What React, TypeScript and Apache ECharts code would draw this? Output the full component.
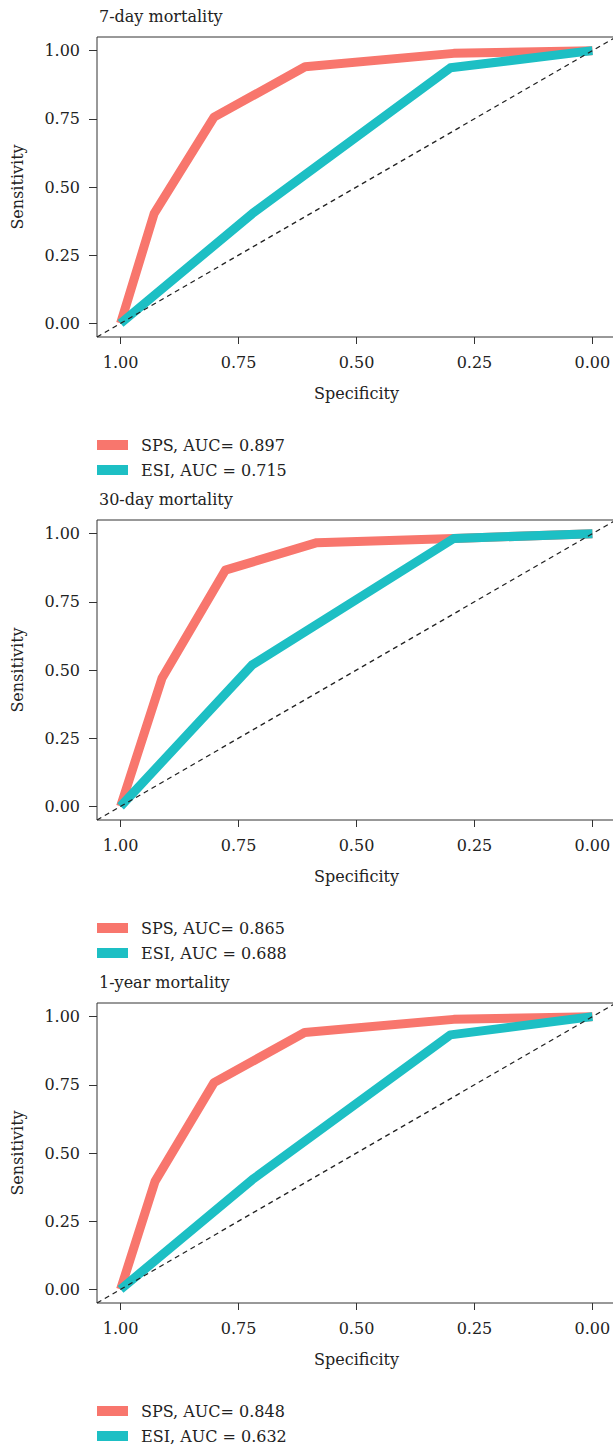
import React, { useEffect, useRef } from "react";
import * as echarts from "echarts";

const panelTitles = ["7-day mortality", "30-day mortality", "1-year mortality"];
const tickValues = [0, 0.25, 0.5, 0.75, 1];

const spsNames = ["SPS, AUC= 0.897", "SPS, AUC= 0.865", "SPS, AUC= 0.848"];
const esiNames = ["ESI, AUC = 0.715", "ESI, AUC = 0.688", "ESI, AUC = 0.632"];

// panel 1: 7-day
const sps7Spec = [1, 0.929, 0.802, 0.609, 0.294, 0];
const sps7Sens = [0, 0.402, 0.756, 0.941, 0.99, 1];
const esi7Spec = [1, 0.721, 0.301, 0];
const esi7Sens = [0, 0.402, 0.937, 1];
// panel 2: 30-day
const sps30Spec = [1, 0.912, 0.778, 0.584, 0.294, 0];
const sps30Sens = [0, 0.471, 0.866, 0.967, 0.982, 1];
const esi30Spec = [1, 0.721, 0.294, 0];
const esi30Sens = [0, 0.519, 0.982, 1];
// panel 3: 1-year
const sps1ySpec = [1, 0.927, 0.802, 0.61, 0.294, 0];
const sps1ySens = [0, 0.396, 0.758, 0.942, 0.99, 1];
const esi1ySpec = [1, 0.721, 0.301, 0];
const esi1ySens = [0, 0.402, 0.933, 1];

const diagSpec = [1.05, -0.05];
const diagSens = [-0.05, 1.05];

const spsSpecs = [sps7Spec, sps30Spec, sps1ySpec];
const spsSenss = [sps7Sens, sps30Sens, sps1ySens];
const esiSpecs = [esi7Spec, esi30Spec, esi1ySpec];
const esiSenss = [esi7Sens, esi30Sens, esi1ySens];

const FONT = "DejaVu Serif";
const RED = "#F8766D";
const TEAL = "#1DBFC4";
const INK = "#222222";

const pair = (xs: number[], ys: number[]) => xs.map((x, i) => [x, ys[i]]);

export default function App() {
  const ref = useRef<HTMLDivElement>(null);
  useEffect(() => {
    if (!ref.current) return;
    const chart = echarts.init(ref.current, undefined, { renderer: "svg" });
    const step = 483;
    const grids: any[] = [];
    const xAxes: any[] = [];
    const yAxes: any[] = [];
    const series: any[] = [];
    const titles: any[] = [];
    const legends: any[] = [];
    for (let i = 0; i < 3; i++) {
      const top = 37 + step * i;
      grids.push({
        left: 97,
        top,
        width: 519,
        height: 300,
        show: true,
        borderColor: "#333",
        borderWidth: 1,
        backgroundColor: "transparent",
        containLabel: false,
        outerBoundsMode: "none",
      });
      xAxes.push({
        type: "value",
        gridIndex: i,
        min: -0.05,
        max: 1.05,
        inverse: true,
        name: "Specificity",
        nameLocation: "middle",
        nameGap: 48,
        nameTextStyle: { fontFamily: FONT, fontSize: 16, color: INK },
        axisLine: { show: false, onZero: false },
        splitLine: { show: false },
        axisTick: {
          show: true,
          length: 7,
          customValues: tickValues,
          lineStyle: { color: "#333", width: 1 },
        },
        axisLabel: {
          customValues: tickValues,
          formatter: (v: number) => v.toFixed(2),
          fontFamily: FONT,
          fontSize: 16,
          color: INK,
          margin: 17,
        },
      });
      yAxes.push({
        type: "value",
        gridIndex: i,
        min: -0.05,
        max: 1.05,
        name: "Sensitivity",
        nameLocation: "middle",
        nameGap: 72,
        nameTextStyle: { fontFamily: FONT, fontSize: 16, color: INK },
        axisLine: { show: false, onZero: false },
        splitLine: { show: false },
        axisTick: {
          show: true,
          length: 8,
          customValues: tickValues,
          lineStyle: { color: "#333", width: 1 },
        },
        axisLabel: {
          customValues: tickValues,
          formatter: (v: number) => v.toFixed(2),
          fontFamily: FONT,
          fontSize: 16,
          color: INK,
          margin: 17,
        },
      });
      series.push({
        type: "line",
        name: spsNames[i],
        xAxisIndex: i,
        yAxisIndex: i,
        data: pair(spsSpecs[i], spsSenss[i]),
        showSymbol: false,
        symbol: "none",
        color: RED,
        lineStyle: { color: RED, width: 9, cap: "butt", join: "round" },
        z: 2,
      });
      series.push({
        type: "line",
        name: esiNames[i],
        xAxisIndex: i,
        yAxisIndex: i,
        data: pair(esiSpecs[i], esiSenss[i]),
        showSymbol: false,
        symbol: "none",
        color: TEAL,
        lineStyle: { color: TEAL, width: 9, cap: "butt", join: "round" },
        z: 3,
      });
      series.push({
        type: "line",
        name: "diag" + i,
        xAxisIndex: i,
        yAxisIndex: i,
        data: pair(diagSpec, diagSens),
        showSymbol: false,
        symbol: "none",
        lineStyle: { color: "#222", width: 1.3, type: [5, 4] },
        z: 4,
      });
      titles.push({
        text: panelTitles[i],
        left: 99,
        top: 8 + step * i,
        padding: 0,
        textStyle: { fontFamily: FONT, fontSize: 16, fontWeight: "normal", color: INK },
      });
      legends.push({
        data: [spsNames[i], esiNames[i]],
        orient: "vertical",
        left: 97,
        top: 437 + step * i,
        padding: 0,
        itemWidth: 31,
        itemHeight: 10,
        itemGap: 9,
        icon: "rect",
        textStyle: {
          fontFamily: FONT,
          fontSize: 16,
          color: INK,
          lineHeight: 16,
          padding: [0, 0, 0, 8],
        },
      });
    }
    chart.setOption({
      animation: false,
      backgroundColor: "#ffffff",
      title: titles,
      legend: legends,
      grid: grids,
      xAxis: xAxes,
      yAxis: yAxes,
      series,
    });
    return () => chart.dispose();
  }, []);
  return (
    <div
      ref={ref}
      style={{ position: "absolute", left: 0, top: 0, width: 613, height: 1446 }}
    />
  );
}
